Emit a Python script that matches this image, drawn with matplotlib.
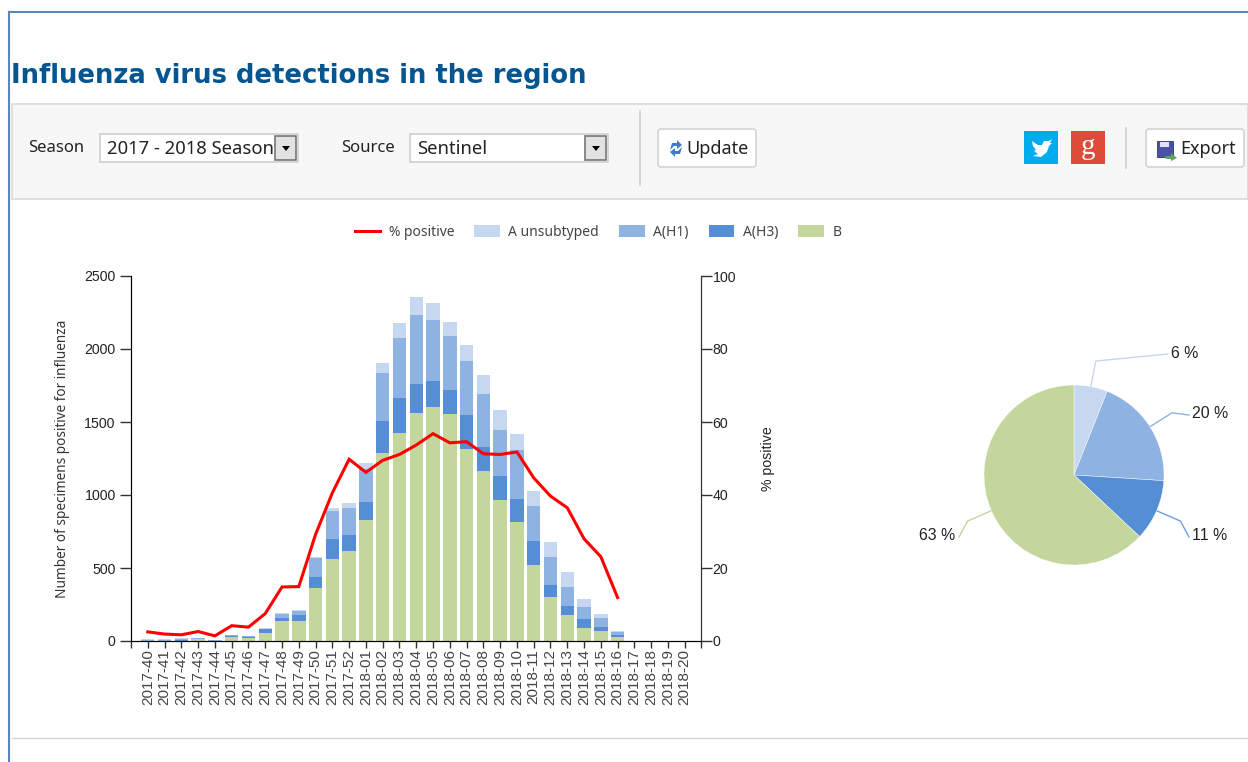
"""Influenza virus detections dashboard panel."""

import numpy as np
import matplotlib

matplotlib.use("Agg")
import matplotlib.pyplot as plt
from matplotlib.lines import Line2D
from matplotlib.patches import FancyBboxPatch, Patch, Polygon, Rectangle

weeks = [f"2017-{w}" for w in range(40, 53)] + [f"2018-{w:02d}" for w in range(1, 21)]

b_counts = [0, 0, 0, 15, 0, 30, 20, 57, 139, 139, 365, 564, 619, 829, 1290, 1427, 1562, 1605,
            1552, 1317, 1164, 963, 817, 520, 304, 176, 87, 68, 30, 0, 0, 0, 0]
h3_counts = [0, 0, 10, 0, 0, 5, 10, 23, 18, 37, 73, 137, 110, 125, 217, 235, 199, 174,
             164, 228, 162, 164, 158, 164, 82, 64, 64, 27, 9, 0, 0, 0, 0]
h1_counts = [8, 9, 5, 3, 8, 5, 4, 5, 27, 27, 128, 189, 180, 221, 326, 416, 470, 418,
             370, 370, 363, 317, 331, 244, 190, 128, 80, 64, 23, 0, 0, 0, 0]
unsub_counts = [3, 3, 3, 4, 2, 3, 2, 2, 10, 9, 9, 19, 36, 42, 73, 100, 127, 116,
                101, 110, 135, 136, 109, 99, 100, 107, 54, 28, 6, 0, 0, 0, 0]
pct_positive = [2.5, 1.9, 1.7, 2.6, 1.4, 4.2, 3.8, 7.5, 14.8, 14.9, 29.2, 40.6, 49.8, 46.2,
                49.5, 51.1, 53.7, 56.8, 54.3, 54.6, 51.3, 51.1, 51.8, 44.7, 39.7, 36.5,
                28.0, 23.1, 11.9]

pie_labels = ["6 %", "20 %", "11 %", "63 %"]
pie_values = [6, 20, 11, 63]

C_UNSUB = "#c6d8f0"
C_H1 = "#8eb3e2"
C_H3 = "#558ed5"
C_B = "#c3d69b"
C_LINE = "#ff0000"
pie_colors = [C_UNSUB, C_H1, C_H3, C_B]

W, H = 1248, 762
UI_FONT = "Noto Sans"
CHART_FONT = "Liberation Sans"

fig = plt.figure(figsize=(W / 100, H / 100), dpi=100)


def px_axes(x0, y0, x1, y1):
    # rectangle in pixels from the top left corner
    return fig.add_axes([x0 / W, 1 - y1 / H, (x1 - x0) / W, (y1 - y0) / H])


# page furniture, pixel coordinates
page = fig.add_axes([0, 0, 1, 1], zorder=0)
page.set_xlim(0, W)
page.set_ylim(H, 0)
page.axis("off")


def button(x0, y0, x1, y1):
    page.add_patch(FancyBboxPatch((x0 + 2, y0 + 2), x1 - x0 - 4, y1 - y0 - 4,
                                  boxstyle="round,pad=2,rounding_size=3",
                                  fc="white", ec="#d4d4d4", lw=1.2))


def select_box(x0, x1, label):
    page.add_patch(Rectangle((x0, 134), x1 - x0, 28, fc="white", ec="#d0d0d0", lw=1.2))
    page.text(x0 + 7, 148.5, label, fontsize=13.3, family=UI_FONT, color="#222222", va="center", zorder=3)
    page.add_patch(Rectangle((x1 - 23, 136), 21, 24, fc="#e2e2e2", ec="#777777", lw=1.2, zorder=4))
    page.add_patch(Polygon([(x1 - 16, 146), (x1 - 8, 146), (x1 - 12, 151)], fc="black", zorder=5))


page.plot([9, 9], [12, H], color="#5b86bd", lw=1.5)
page.plot([9, W], [12, 12], color="#5b86bd", lw=1.5)
page.add_patch(Rectangle((12, 104), W - 12, 95, fc="#f7f7f7", ec="#dcdcdc", lw=1.3))
page.plot([12, W], [738, 738], color="#d5d5d5", lw=1)
page.text(11, 76, "Influenza virus detections in the region", fontsize=18.6, weight="bold",
          family="DejaVu Sans", color="#03568f", va="center")

page.text(28, 148.5, "Season", fontsize=12, family=UI_FONT, color="#222222", va="center")
select_box(100, 298, "2017 - 2018 Season")
page.text(341, 148.5, "Source", fontsize=12, family=UI_FONT, color="#222222", va="center")
select_box(410, 608, "Sentinel")
page.plot([639.5, 639.5], [111, 185], color="#d0d0d0", lw=1.2)
page.plot([1125.5, 1125.5], [128, 168], color="#d0d0d0", lw=1.2)

button(658, 129, 756, 167)
page.add_patch(Polygon([(670, 150), (672, 143), (677, 143), (677, 140), (682, 145), (677, 149),
                        (677, 146), (674, 146)], fc="#3b7fc4"))
page.add_patch(Polygon([(682, 147), (680, 154), (675, 154), (675, 157), (670, 152), (675, 148),
                        (675, 151), (678, 151)], fc="#3b7fc4"))
page.text(686, 148.5, "Update", fontsize=13, family=UI_FONT, color="#222222", va="center")

button(1146, 129, 1244, 167)
page.add_patch(Rectangle((1157, 141), 16, 16, fc="#4a52a8", ec="#30366e", lw=0.6))
page.add_patch(Rectangle((1160, 142), 9, 5, fc="#dfe4f5"))
page.add_patch(Polygon([(1165, 156), (1171, 156), (1171, 153), (1177, 158), (1171, 161), (1171, 159),
                        (1166, 159)], fc="#5aa75a"))
page.text(1180, 148.5, "Export", fontsize=13, family=UI_FONT, color="#222222", va="center")

page.add_patch(Rectangle((1024, 131), 34, 33, fc="#00acee"))
page.add_patch(Polygon([(1032, 141), (1038, 145), (1042, 145), (1044, 141), (1049, 141), (1052, 139),
                        (1050, 143), (1052, 143), (1049, 146), (1047, 152), (1041, 157), (1033, 156),
                        (1038, 154), (1034, 151), (1036, 150), (1033, 146)], fc="white"))
page.add_patch(Rectangle((1071, 131), 34, 33, fc="#dd4b39"))
page.text(1088, 147, "g", fontsize=21, family="Liberation Serif", color="white", ha="center", va="center")

# stacked bars and percentage line
x = np.arange(len(weeks))
ax = px_axes(131, 276, 701.5, 641)
ax.set_zorder(2)
ax.patch.set_alpha(0)
bottom = np.zeros(len(weeks))
for values, color in [(b_counts, C_B), (h3_counts, C_H3), (h1_counts, C_H1), (unsub_counts, C_UNSUB)]:
    ax.bar(x, values, 0.8, bottom=bottom, color=color, linewidth=0)
    bottom += np.array(values)

ax.set_xlim(-1, 33)
ax.set_ylim(0, 2500)
ax.set_yticks([0, 500, 1000, 1500, 2000, 2500])
ax.set_xticks(np.arange(-1, 34))
ax.set_xticklabels([""] + weeks + [""], rotation=90, fontsize=11, family=CHART_FONT, color="#444444")
ax.tick_params(axis="x", length=5, width=1, pad=1, color="#333333")
ax.tick_params(axis="y", length=8, width=1, pad=3, labelsize=10.2, color="#333333", labelcolor="#222222")
for label in ax.get_yticklabels():
    label.set_family(CHART_FONT)
ax.spines["top"].set_visible(False)
for side in ["left", "bottom", "right"]:
    ax.spines[side].set_color("#333333")

ax2 = ax.twinx()
ax2.plot(x[: len(pct_positive)], pct_positive, color=C_LINE, lw=2.2, solid_joinstyle="miter")
ax2.set_ylim(0, 100)
ax2.set_yticks([0, 20, 40, 60, 80, 100])
ax2.tick_params(axis="y", length=8, width=1, pad=0, labelsize=10.2, color="#333333", labelcolor="#222222")
for label in ax2.get_yticklabels():
    label.set_family(CHART_FONT)
ax2.spines["top"].set_visible(False)
ax2.spines["right"].set_color("#333333")

page.text(62.5, 459, "Number of specimens positive for influenza", rotation=90, fontsize=9.8,
          family=UI_FONT, color="#333333", ha="center", va="center")
page.text(768, 459, "% positive", rotation=90, fontsize=10.2, family=CHART_FONT,
          color="#222222", ha="center", va="center")

handles = [
    Line2D([], [], color=C_LINE, lw=2.2),
    Patch(fc=C_UNSUB),
    Patch(fc=C_H1),
    Patch(fc=C_H3),
    Patch(fc=C_B),
]
fig.legend(handles, ["% positive", "A unsubtyped", "A(H1)", "A(H3)", "B"], ncol=5, frameon=False,
           loc="center", bbox_to_anchor=(598 / W, 1 - 232.5 / H),
           prop={"family": UI_FONT, "size": 10}, labelcolor="#444444",
           handlelength=1.85, handleheight=1.0, handletextpad=0.6, columnspacing=1.45)

# pie, clockwise from twelve o'clock
cx, cy, radius = 1074, 475, 90
pie_ax = px_axes(cx - radius, cy - radius, cx + radius, cy + radius)
pie_ax.set_zorder(2)
wedges, _ = pie_ax.pie(pie_values, colors=pie_colors, startangle=90, counterclock=False, radius=1,
                       wedgeprops={"linewidth": 0.3, "edgecolor": "white"})
pie_ax.set_xlim(-1, 1)
pie_ax.set_ylim(-1, 1)
for w in wedges:
    w.set_clip_on(False)

# leader lines start on the middle of each slice
label_ends = [(1168, 354), (1189, 415), (1189, 537), (959, 537)]
label_sides = ["left", "left", "left", "right"]
mids = np.radians((np.cumsum(pie_values) - np.array(pie_values) / 2) * 3.6)
for mid, end, side, text, color in zip(mids, label_ends, label_sides, pie_labels, pie_colors):
    dx, dy = np.sin(mid), -np.cos(mid)
    page.plot([cx + radius * dx, cx + 116 * dx, end[0]], [cy + radius * dy, cy + 116 * dy, end[1]],
              color=color if color != C_H3 else "#6f9fdc", lw=1)
    off = 3 if side == "left" else -4
    page.text(end[0] + off, end[1] - 1, text, fontsize=11.4, family=CHART_FONT, color="#222222",
              ha=side, va="center")

fig.savefig("out.png", dpi=100)
